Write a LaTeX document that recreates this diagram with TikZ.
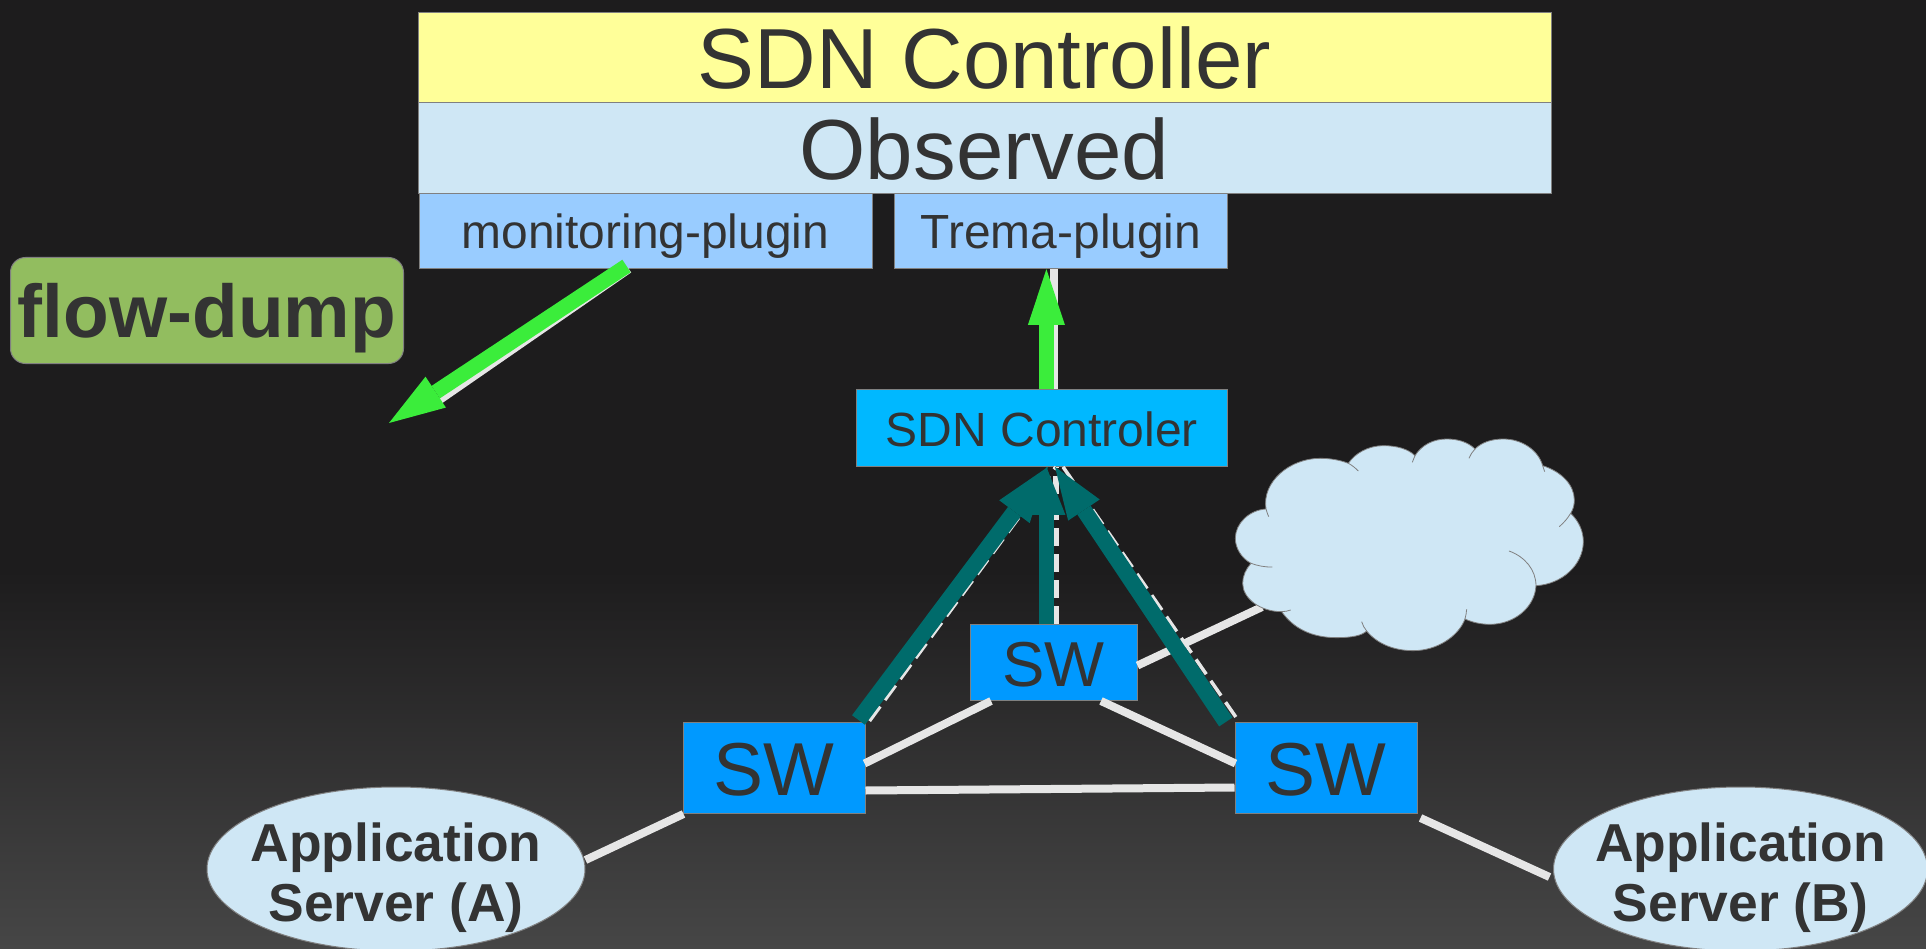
\documentclass[tikz,border=0pt]{standalone}
\usepackage{fontspec}
\setmainfont{Liberation Sans}
\usetikzlibrary{arrows.meta, shapes.geometric}
\definecolor{bgdark}{HTML}{1D1C1D}
\definecolor{bglight}{HTML}{464646}
\definecolor{inktext}{HTML}{333333}
\definecolor{edgegrey}{HTML}{808080}
\definecolor{ctrlyellow}{HTML}{FFFF99}
\definecolor{palesky}{HTML}{CFE7F5}
\definecolor{pluginblue}{HTML}{99CCFF}
\definecolor{ctlblue}{HTML}{00B8FF}
\definecolor{swblue}{HTML}{0099FF}
\definecolor{dumpgreen}{HTML}{92BD5F}
\definecolor{arrowgreen}{HTML}{3BED3B}
\definecolor{arrowteal}{HTML}{006B6B}
\definecolor{linkwhite}{HTML}{E6E6E6}
\tikzset{
    txt/.style 2 args = {font = \fontsize{#1}{#1}\selectfont, text height = #2, text depth = 0pt},
    boxnode/.style = {draw = edgegrey, line width = 1pt, inner sep = 0pt, text = inktext},
    appnode/.style = {draw = edgegrey, line width = 1pt, inner sep = 0pt, fill = palesky, ellipse, minimum height = 164pt},
    apptext/.style = {inner sep = 0pt, text = inktext, align = center, yshift = -8.6pt, font = \fontsize{53.4}{60}\selectfont\bfseries},
    linkline/.style = {draw = linkwhite, line width = 8pt},
    dashlink/.style = {draw = linkwhite, line width = 3.5pt, dash pattern = on 18pt off 8pt},
    greenarrow/.style = {draw = arrowgreen, line width = 15pt, -{Triangle[length = 56pt, width = 37pt, line width = 0pt]}},
    tealarrow/.style = {draw = arrowteal, line width = 16pt, -{Triangle[length = #1, width = 38pt, line width = 0pt]}},
    cloudedge/.style = {draw = edgegrey, line width = 0.8pt}
}
\begin{document}
\begin{tikzpicture}[x = 1pt, y = -1pt]
    \useasboundingbox (0, 0) rectangle (1926, 949);
    \fill [bgdark] (0, 0) rectangle (1926, 949);
    \shade [top color = bgdark, bottom color = bglight] (0, 570) rectangle (1926, 949);

    \node [boxnode, fill = ctrlyellow, minimum width = 1133pt, minimum height = 90pt, txt = {85.3}{63pt}] (ctrl) at (984.5, 57.5) {SDN Controller};
    \node [boxnode, fill = palesky, minimum width = 1133pt, minimum height = 91pt, txt = {85.3}{63pt}] (obs) at (984.5, 148) {Observed};
    \node [boxnode, fill = pluginblue, minimum width = 453pt, minimum height = 75pt, txt = {47.9}{36pt}] (mon) at (645.5, 231) {monitoring-plugin};
    \node [boxnode, fill = pluginblue, minimum width = 332.5pt, minimum height = 75pt, txt = {47.9}{36pt}] (trema) at (1061, 231) {Trema-plugin};
    \node [boxnode, fill = dumpgreen, rounded corners = 15pt, minimum width = 393pt, minimum height = 106pt, txt = {74.8}{54pt}, font = \fontsize{74.8}{74.8}\selectfont\bfseries] (dump) at (207, 310.5) {flow-dump};
    \coordinate (dumptip) at (389, 423);
    \coordinate (cloudlink) at (1262, 607);

    \node [appnode, minimum width = 378pt, label = {[apptext]center:{Application\\Server (A)}}] (appa) at (396, 869) {};
    \node [appnode, minimum width = 374pt, label = {[apptext]center:{Application\\Server (B)}}] (appb) at (1740.5, 869) {};
    \node [boxnode, fill = ctlblue, minimum width = 371pt, minimum height = 76.7pt, txt = {48}{36pt}] (ctl) at (1042, 428) {SDN Controler};
    \node [boxnode, fill = swblue, minimum width = 167pt, minimum height = 76pt, txt = {63.5}{47pt}] (swm) at (1053.5, 662.5) {SW};
    \node [boxnode, fill = swblue, minimum width = 182pt, minimum height = 91pt, txt = {75}{55pt}] (swl) at (774, 768) {SW};
    \node [boxnode, fill = swblue, minimum width = 182pt, minimum height = 91pt, txt = {75}{55pt}] (swr) at (1326, 768) {SW};

    \draw [linkline] ([yshift = 9pt]appa.east) -- ([xshift = 1pt]swl.south west);
    \draw [linkline] ([xshift = -1pt, yshift = 4.5pt]swl.east) -- ([xshift = -62.5pt]swm.south);
    \draw [linkline] ([yshift = -22.5pt]swl.east) -- ([yshift = -19.5pt]swr.west);
    \draw [linkline] ([xshift = 47.5pt]swm.south) -- ([xshift = 1pt, yshift = 4.5pt]swr.west);
    \draw [linkline] ([yshift = -3pt]swm.east) -- (cloudlink);
    \draw [linkline] ([xshift = 3pt, yshift = -4pt]swr.south east) -- ([xshift = -3.5pt, yshift = -8pt]appb.west);
    \draw [linkline, line width = 7.5pt] ([xshift = -7pt]trema.south) -- ([xshift = 12pt]ctl.north);
    \draw [linkline, line width = 6pt] ([xshift = -16pt, yshift = -1pt]mon.south) -- ([xshift = 51pt, yshift = 22pt]dumptip);

    \draw [dashlink] ([xshift = 4pt, yshift = 1pt]swl.north east) -- ([xshift = 14pt]ctl.south);
    \draw [dashlink, line width = 5.5pt] ([xshift = 2.5pt]swm.north) -- ([xshift = 14pt]ctl.south);
    \draw [dashlink] ([xshift = 1.3pt, yshift = 5pt]swr.north west) -- ([xshift = 21pt]ctl.south);

    \draw [tealarrow = 56pt] ([xshift = -7pt, yshift = 2pt]swl.north east) -- ([xshift = 6pt]ctl.south);
    \draw [tealarrow = 48pt, line width = 15pt] ([xshift = -7.1pt]swm.north) -- ([xshift = 4.4pt]ctl.south);
    \draw [tealarrow = 52pt] ([xshift = -8.7pt]swr.north west) -- ([xshift = 13pt]ctl.south);
    \draw [greenarrow] ([xshift = 4.4pt]ctl.north) -- ([xshift = -14.6pt]trema.south);
    \draw [greenarrow] ([xshift = -19pt, yshift = 3pt]mon.south) -- (dumptip);

    \begin{scope}[shift = {(1220, 425)}, x = 0.3333pt, y = -0.3333pt]
        \path [fill = palesky, cloudedge] (138, 252)
            .. controls (125, 170) and (210, 100) .. (300, 100) .. controls (330, 100) and (360, 105) .. (385, 115)
            .. controls (405, 85) and (445, 62) .. (490, 62) .. controls (530, 62) and (565, 72) .. (585, 92)
            .. controls (605, 60) and (640, 42) .. (680, 42) .. controls (715, 42) and (745, 52) .. (765, 72)
            .. controls (785, 52) and (815, 42) .. (850, 42) .. controls (905, 42) and (955, 75) .. (968, 122)
            .. controls (1025, 140) and (1063, 180) .. (1063, 225) .. controls (1063, 240) and (1060, 252) .. (1052, 265)
            .. controls (1078, 290) and (1090, 320) .. (1090, 350) .. controls (1090, 420) and (1025, 478) .. (948, 482)
            .. controls (945, 545) and (885, 598) .. (810, 598) .. controls (782, 598) and (757, 592) .. (735, 582)
            .. controls (715, 635) and (650, 677) .. (580, 677) .. controls (520, 677) and (470, 655) .. (440, 618)
            .. controls (425, 632) and (395, 638) .. (350, 638) .. controls (275, 638) and (220, 610) .. (185, 560)
            .. controls (120, 560) and (68, 520) .. (68, 475) .. controls (68, 452) and (78, 432) .. (93, 415)
            .. controls (65, 400) and (46, 370) .. (46, 340) .. controls (46, 295) and (88, 255) .. (138, 252) -- cycle;
        \draw [cloudedge] (385, 115) .. controls (395, 120) and (405, 128) .. (415, 138);
        \draw [cloudedge] (585, 92) .. controls (582, 98) and (580, 105) .. (577, 112);
        \draw [cloudedge] (765, 72) .. controls (757, 80) and (751, 90) .. (747, 100);
        \draw [cloudedge] (968, 122) .. controls (970, 128) and (972, 134) .. (974, 140);
        \draw [cloudedge] (1052, 265) .. controls (1043, 280) and (1032, 293) .. (1018, 305);
        \draw [cloudedge] (867, 378) .. controls (915, 395) and (948, 435) .. (948, 482);
        \draw [cloudedge] (740, 553) .. controls (739, 563) and (738, 572) .. (735, 582);
        \draw [cloudedge] (425, 590) .. controls (428, 600) and (433, 610) .. (440, 618);
        \draw [cloudedge] (185, 560) .. controls (195, 560) and (204, 558) .. (212, 555);
        \draw [cloudedge] (93, 415) .. controls (112, 422) and (135, 427) .. (157, 426);
        \draw [cloudedge] (138, 252) .. controls (140, 260) and (143, 268) .. (146, 275);
    \end{scope}
\end{tikzpicture}
\end{document}
